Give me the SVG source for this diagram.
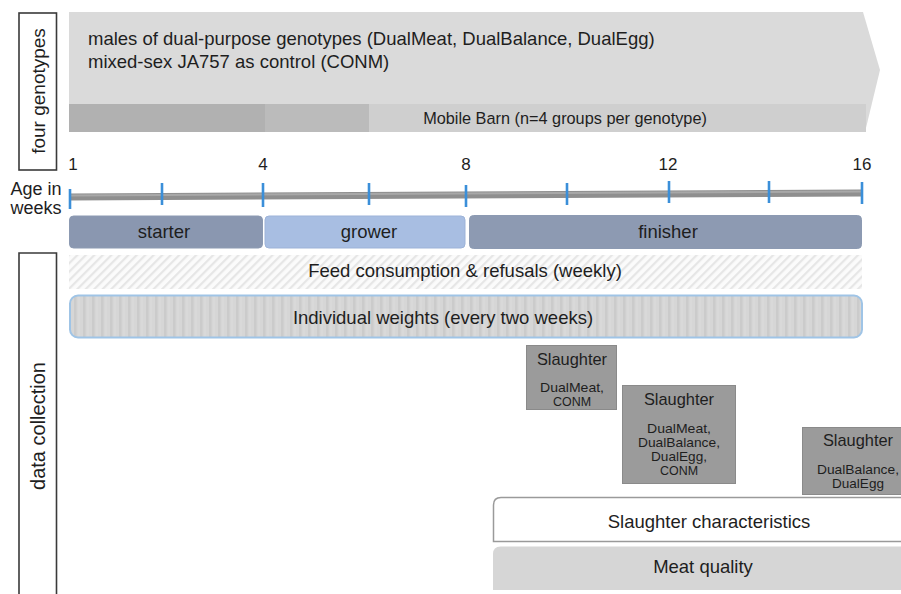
<svg xmlns="http://www.w3.org/2000/svg" width="901" height="594" viewBox="0 0 901 594">
<style>
text{font-family:"Liberation Sans",Arial,sans-serif;fill:#1e1e1e}
.t{font-size:18.5px}
.m{text-anchor:middle}
.lbl{font-size:17px;text-anchor:middle}
.side{fill:#fff;stroke:#3a3a3a;stroke-width:1.6}
.tick{stroke:#3b8fd9;stroke-width:2.6}
.phase{stroke:#8c9ab2;stroke-width:1}
.sl{fill:#9b9b9b;stroke:#8a8a8a;stroke-width:1}
.slh{font-size:16.4px;text-anchor:middle}
.sls{font-size:12.2px;text-anchor:middle}
</style>
<defs>
<pattern id="hatch" width="6" height="6" patternUnits="userSpaceOnUse" patternTransform="rotate(45)">
<rect width="6" height="6" fill="#fbfbfb"/>
<rect width="2.2" height="6" fill="#e6e6e6"/>
</pattern>
<pattern id="vstripe" width="9" height="10" patternUnits="userSpaceOnUse">
<rect width="9" height="10" fill="#d6d6d6"/>
<rect x="2" width="2.5" height="10" fill="#cbcbcb"/>
<rect x="6.5" width="1" height="10" fill="#dcdcdc"/>
</pattern>
</defs>

<g id="four-genotypes">
<rect class="side" x="19" y="13" width="37.5" height="157"/>
<text class="m" transform="translate(45,91) rotate(-90)" style="font-size:19px">four genotypes</text>
</g>

<g id="data-collection">
<path class="side" d="M19,600 V253 H56.5 V600"/>
<text class="m" transform="translate(45,426) rotate(-90)" style="font-size:20px">data collection</text>
</g>

<g id="genotypes-arrow">
<path d="M69,12 H863 L880,70 L865,132 H69 Z" fill="#dadada"/>
<rect x="69" y="104" width="196" height="28" fill="#b1b1b1"/>
<rect x="265" y="104" width="104" height="28" fill="#bbbbbb"/>
<rect x="369" y="104" width="497" height="28" fill="#cfcfcf"/>
<text class="t" x="88" y="45">males of dual-purpose genotypes (DualMeat, DualBalance, DualEgg)</text>
<text class="t" x="88" y="68">mixed-sex JA757 as control (CONM)</text>
<text class="m" x="565" y="124" style="font-size:16.3px">Mobile Barn (n=4 groups per genotype)</text>
</g>

<g id="age-axis">
<text x="36" y="195" class="m" style="font-size:18px">Age in</text>
<text x="36" y="214" class="m" style="font-size:18px">weeks</text>
<line x1="69" y1="197" x2="862" y2="193" stroke="#8f8f8f" stroke-width="7"/>
<line x1="69" y1="195.5" x2="862" y2="191.5" stroke="#a8a8a8" stroke-width="2"/>
<line class="tick" x1="70" y1="189" x2="70" y2="209"/>
<line class="tick" x1="162" y1="183" x2="162" y2="205"/>
<line class="tick" x1="263" y1="183" x2="263" y2="207"/>
<line class="tick" x1="369" y1="183" x2="369" y2="205"/>
<line class="tick" x1="466" y1="185" x2="466" y2="207"/>
<line class="tick" x1="567" y1="183" x2="567" y2="205"/>
<line class="tick" x1="669" y1="181" x2="669" y2="203"/>
<line class="tick" x1="769" y1="181" x2="769" y2="203"/>
<line class="tick" x1="862" y1="182" x2="862" y2="204"/>
<text class="lbl" x="73" y="170">1</text>
<text class="lbl" x="263" y="170">4</text>
<text class="lbl" x="466" y="170">8</text>
<text class="lbl" x="668" y="170">12</text>
<text class="lbl" x="862" y="170">16</text>
</g>

<g id="starter">
<rect class="phase" x="69.5" y="216" width="193" height="32" rx="4" fill="#8a97b0"/>
<text class="t m" x="164" y="238">starter</text>
</g>
<g id="grower">
<rect x="265" y="216" width="200" height="32" rx="4" fill="#a8bee2" stroke="#9db3d8" stroke-width="1"/>
<text class="t m" x="369" y="238">grower</text>
</g>
<g id="finisher">
<rect class="phase" x="469.5" y="215.5" width="392" height="33" rx="4" fill="#8d9ab2"/>
<text class="t m" x="668" y="238">finisher</text>
</g>

<g id="feed">
<rect x="69" y="255" width="793" height="34" fill="url(#hatch)"/>
<text class="t m" x="465" y="277">Feed consumption &amp; refusals (weekly)</text>
</g>

<g id="weights">
<rect x="70" y="295.5" width="792" height="42" rx="8" fill="url(#vstripe)" stroke="#9fc4e6" stroke-width="2"/>
<text class="t m" x="443" y="324">Individual weights (every two weeks)</text>
</g>

<g id="slaughter-1">
<rect class="sl" x="526.5" y="345.5" width="90" height="64"/>
<text class="slh" x="572" y="365">Slaughter</text>
<text class="sls" x="572" y="392" textLength="64" lengthAdjust="spacingAndGlyphs">DualMeat,</text>
<text class="sls" x="572" y="406" textLength="38" lengthAdjust="spacingAndGlyphs">CONM</text>
</g>
<g id="slaughter-2">
<rect class="sl" x="622.5" y="385.5" width="113" height="98"/>
<text class="slh" x="679" y="405">Slaughter</text>
<text class="sls" x="679" y="433" textLength="64" lengthAdjust="spacingAndGlyphs">DualMeat,</text>
<text class="sls" x="679" y="447" textLength="82" lengthAdjust="spacingAndGlyphs">DualBalance,</text>
<text class="sls" x="679" y="461" textLength="56" lengthAdjust="spacingAndGlyphs">DualEgg,</text>
<text class="sls" x="679" y="475" textLength="38" lengthAdjust="spacingAndGlyphs">CONM</text>
</g>
<g id="slaughter-3">
<rect class="sl" x="802.5" y="427.5" width="110" height="67"/>
<text class="slh" x="858" y="446">Slaughter</text>
<text class="sls" x="858" y="474" textLength="82" lengthAdjust="spacingAndGlyphs">DualBalance,</text>
<text class="sls" x="858" y="488" textLength="52" lengthAdjust="spacingAndGlyphs">DualEgg</text>
</g>

<g id="slaughter-characteristics">
<path d="M493.5,541.5 V505 Q493.5,497.5 501,497.5 H905 V541.5 Z" fill="#fff" stroke="#9a9a9a" stroke-width="1.5"/>
<text class="t m" x="709" y="528">Slaughter characteristics</text>
</g>

<g id="meat-quality">
<path d="M493,590 V554 Q493,546.5 500.5,546.5 H905 V590 Z" fill="#d6d6d6"/>
<text class="t m" x="703" y="573">Meat quality</text>
</g>

<g id="connectors"></g>
</svg>
